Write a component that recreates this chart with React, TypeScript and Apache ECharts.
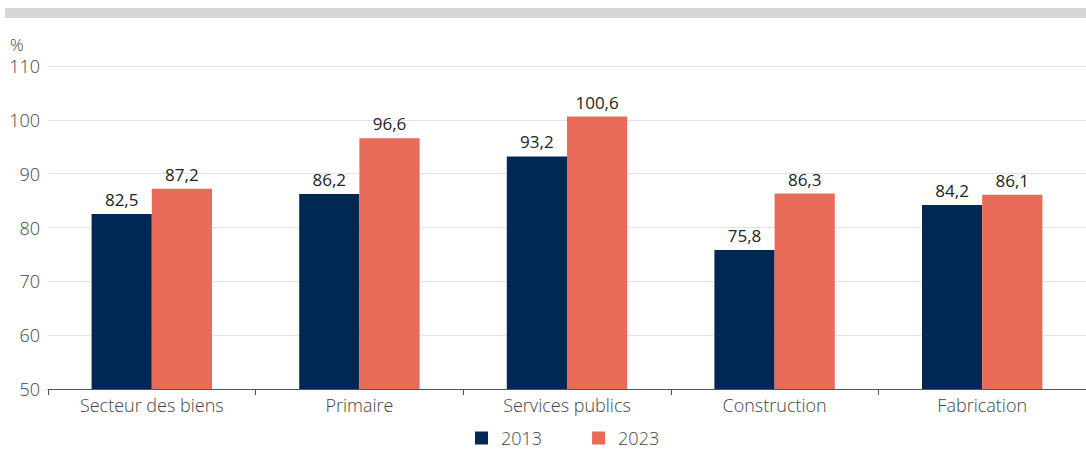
import React, { useEffect, useRef } from "react";
import * as echarts from "echarts";

const categories = ["Secteur des biens", "Primaire", "Services publics", "Construction", "Fabrication"];
const values2013 = [82.5, 86.2, 93.2, 75.8, 84.2];
const values2023 = [87.2, 96.6, 100.6, 86.3, 86.1];
const seriesNames = ["2013", "2023"];

const FONT = "'Open Sans', sans-serif";
const fmt = (v: number) => v.toFixed(1).replace(".", ",");

export default function App() {
  const ref = useRef<HTMLDivElement>(null);
  useEffect(() => {
    if (!ref.current) return;
    const chart = echarts.init(ref.current, undefined, { renderer: "svg" });
    const labelCfg = {
      show: true,
      position: "top" as const,
      distance: 6,
      color: "#222",
      fontSize: 17,
      fontFamily: FONT,
      formatter: (p: any) => fmt(p.value),
    };
    chart.setOption({
      animation: false,
      textStyle: { fontFamily: FONT },
      graphic: [
        { type: "rect", shape: { x: 5, y: 8, width: 1081, height: 10 }, style: { fill: "#d6d6d6" }, silent: true },
        { type: "text", x: 10, y: 36, style: { text: "%", fontSize: 17, fontFamily: FONT, fill: "#444", fontWeight: 300 } },
      ],
      grid: { left: 48, right: 0, top: 66, bottom: 60, containLabel: false },
      legend: {
        left: 475,
        top: 428,
        padding: 0,
        itemWidth: 13,
        itemHeight: 13,
        itemGap: 50,
        icon: "rect",
        data: seriesNames,
        textStyle: { fontSize: 18, lineHeight: 20, color: "#444", fontFamily: FONT, fontWeight: 300, padding: [0, 0, 0, 8] },
      },
      xAxis: {
        type: "category",
        data: categories,
        axisLine: { lineStyle: { color: "#555", width: 1 } },
        axisTick: { show: true, length: 6, lineStyle: { color: "#555" } },
        axisLabel: { fontSize: 18, color: "#444", fontFamily: FONT, fontWeight: 300, margin: 7 },
      },
      yAxis: {
        type: "value",
        min: 50,
        max: 110,
        interval: 10,
        axisLine: { show: false },
        axisTick: { show: false },
        splitLine: { lineStyle: { color: "#e3e3e3", width: 1 } },
        axisLabel: { fontSize: 18, color: "#444", fontFamily: FONT, fontWeight: 300, margin: 8 },
      },
      series: [
        {
          name: seriesNames[0],
          type: "bar",
          data: values2013,
          itemStyle: { color: "#002855" },
          barGap: "0%",
          barCategoryGap: "42%",
          label: labelCfg,
        },
        {
          name: seriesNames[1],
          type: "bar",
          data: values2023,
          itemStyle: { color: "#e86a58" },
          label: labelCfg,
        },
      ],
    });
    return () => chart.dispose();
  }, []);
  return (
    <div
      ref={ref}
      style={{ position: "fixed", left: 0, top: 0, width: 1086, height: 449, background: "#fff" }}
    />
  );
}
